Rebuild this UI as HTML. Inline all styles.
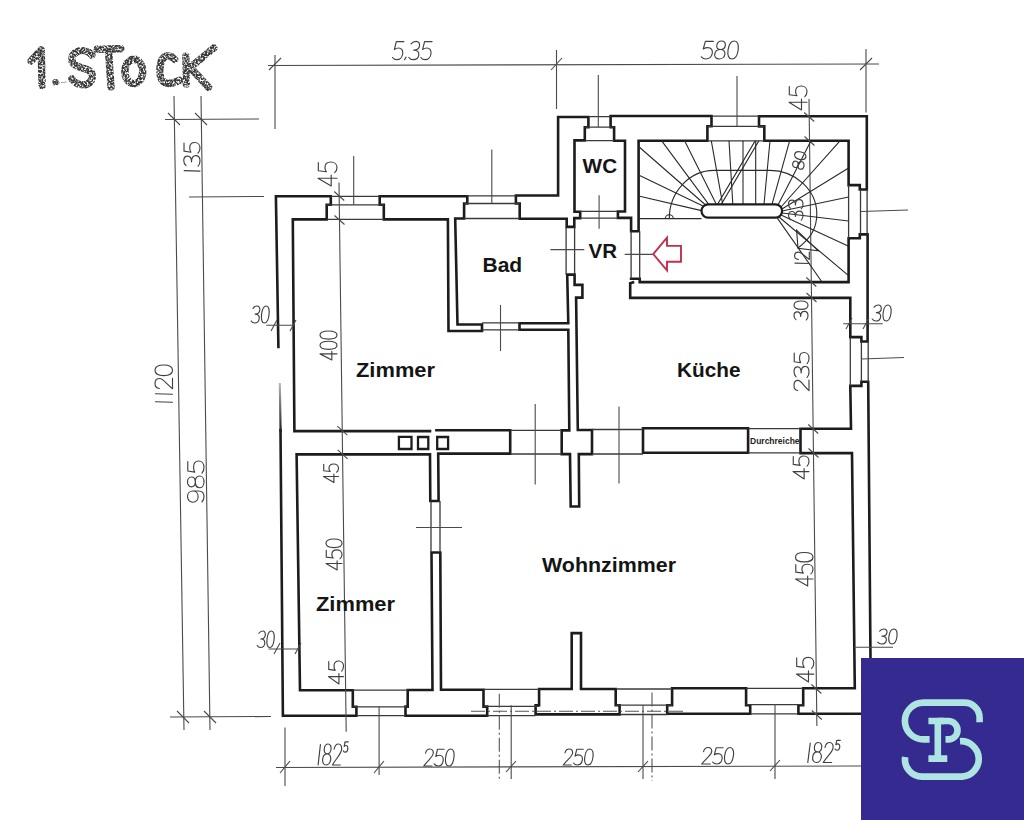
<!DOCTYPE html>
<html><head><meta charset="utf-8">
<style>
html,body{margin:0;padding:0;background:#fff;width:1024px;height:820px;overflow:hidden}
svg{position:absolute;left:0;top:0}
.lbl{font-family:"Liberation Sans",sans-serif;font-weight:bold;fill:#151515}
.dim{font-family:"Liberation Sans",sans-serif;fill:#3a3a3a}
</style></head><body>
<svg width="1024" height="820" viewBox="0 0 1024 820">
<!-- thick walls -->
<g id="walls" fill="none" stroke="#1c1c1c" stroke-width="2.6" stroke-linejoin="miter" stroke-linecap="square">
<path d="M278.4,347 L275.9,196.2 H330.8 V204.8 H326.7 V219.4 H292.8 L294.4,431.1 H430"/>
<path d="M379.7,204.8 V196.2 H467.3 V203.5 H464.1 V218.5 H455.2 L457.5,324.5 H482 V331 H448.5 L447.9,219.4 H383.8 V204.8 Z"/>
<path d="M515.9,203.5 V195.5 H558.1 V117 H588.4 V127.2 H584.8 V140.4 H574.5 V211.7 H580.2 V218.1 H574.3 V226.9 H566.7 V218.7 H519.7 V203.5 Z"/>
<path d="M519.5,323.2 H568.3 L567.2,274.6 H574.6 V284.9 H582.4 V297.6 H576.1 L577.8,430 H592 V454.1 H578.8 L579.2,506.5 H570.7 L570,454.1 H561.7 V430.4 H569.3 L568.3,329.8 H519.5 Z"/>
<path d="M610.6,127.2 V116 H711.5 V126.2 H707.4 V140.8 H638.6 V231.3 H631.1 V217.9 H617.9 V211.5 H625 V140.8 H614.1 V127.2 Z"/>
<path d="M759,126.4 V116.2 H866.8 V189.5 H859.8 V185.1 H848.6 V140.8 H764.3 V126.4 Z"/>
<path d="M631.1,278.7 H639.7 V282.1 H848.6 V238.3 H859.8 V234.4 H867.6 V341.5 H861.4 V337.1 H850.3 V297.9 H630.2 V283.2 L633,282.4"/>
<path d="M870.5,660 L868.2,381.7 H861.4 V385.9 H850.3 L851,428.7 H800.5 V453.1 H852 L854.8,688.2 H803.2 V705.2 H798.4 V713.8 H862"/>
<path d="M643,428.3 H748.1 V452.8 H643 Z"/>
<path d="M436.4,430.2 H510.2 V453.6 H438.2 L438.6,501 H430.3 L430,454.4 H296.6 L300,690.3 H352.8 V706.8 H356.4 V715.8 H282.9 L280.5,430"/>
<path d="M432.5,689.8 L431.5,552.5 H440.3 L441,689.8 H483.5 V706.6 H487.2 V715.7 H405.5 V706.6 H407.7 V690 H432.5"/>
<path d="M571.7,689 V633.1 H581 V689 H615.7 V705.3 H619.6 V714.4 H535.6 V705.3 H539.1 V689 Z"/>
<path d="M672.1,688.2 H746.1 V705.2 H750.2 V713.8 H667.2 V705.2 H672.1 Z"/>
<path stroke-width="2.3" d="M398.9,436.8 H411.5 V449 H398.9 Z M418,437 H428.3 V449 H418 Z M437.2,437 H448.1 V449 H437.2 Z"/>
</g>

<defs><linearGradient id="fadeL" x1="0" y1="0" x2="0" y2="1"><stop offset="0" stop-color="#bbb"/><stop offset="1" stop-color="#1c1c1c"/></linearGradient></defs>
<path d="M279.8,383 L280.6,432" stroke="url(#fadeL)" stroke-width="2.2" fill="none"/>
<!-- window & door thin lines -->
<g id="win" fill="none" stroke="#3a3a3a" stroke-width="1.3">
<path d="M330.8,196.4 H379.7 M326.7,204.8 H383.8 M326.7,219.4 H383.8"/>
<path d="M467.3,195.9 H515.9 M464.1,203.5 H519.7 M464.1,218.5 H519.7"/>
<path d="M588.4,116.6 H610.6 M584.8,127.2 H614.1 M584.8,140.6 H614.1"/>
<path d="M711.5,116.2 H759 M707.4,126.3 H764.3 M707.4,140.8 H764.3"/>
<path d="M860.5,189.5 V234.4 M867.1,189.5 V234.4 M848.6,185.1 V238.3"/>
<path d="M861.4,341.5 V381.7 M868.2,341.5 V381.7 M850.3,337.1 V385.9"/>
<path d="M352.8,690.2 H407.7 M352.8,706.8 H407.7 M356.4,715.7 H405.5"/>
<path d="M483.5,689.4 H539.2 M483.5,706.4 H539.2 M487.2,715.6 H535.5"/>
<path d="M615.7,689 H672.1 M615.7,705.1 H672.1 M619.6,714.5 H668"/>
<path d="M746.1,688.3 H803.2 M746.1,704.6 H803.2 M750.2,713.8 H798.4"/>
<path d="M510.2,430.4 H561.7 M510.2,454 H561.7 M592,429.5 H643 M592,454 H643 M748.1,428.7 H800.5 M748.1,452.8 H800.5"/>
<path d="M482,322.8 H519.5 M482,329.8 H519.5"/>
<path d="M566.1,226.9 V274.6 M574.6,226.9 V274.6"/>
<path d="M631.1,231.3 V278.7 M639.7,231.3 V278.7"/>
<path d="M580.2,211.3 H617.9 M580.2,218.1 H617.9"/>
<path d="M431,501 V552.5 M440,501 V552.5"/>
</g>
<g fill="none" stroke="#555" stroke-width="1.1" stroke-dasharray="14 3 2 3">
<path d="M471,711.3 H683"/>
<path d="M499.3,693.7 V780.2 M652,692.4 V781"/>
</g>
<!-- center marks and dimension lines -->
<g id="dims" fill="none" stroke="#4a4a4a" stroke-width="1.1">
<path d="M353.7,156 V204.8 M491.8,149.5 V203.5 M598.3,75 V127 M737,76 V126 M500.5,305 V351 M599.1,195.3 V228.7"/>
<path d="M550.4,249.6 H584.3 M624.7,254.4 H652.9 M860.7,211.5 L908,210 M861.4,359 L904,357.5"/>
<path d="M535.2,404 V484.5 M619,406.6 V483.4 M416,527.5 H462"/>
<path d="M268,65.5 L879,64 M275,55 V129 M556.5,50 V109 M866,49 V112.5"/>
<path d="M174,96 L184,730 M201,96 L210,730"/>
<path d="M165,119.5 L259,119 M189,197 L264,196.5 M170,717 L271,716.5"/>
<path d="M276,767.5 L861,766"/>
<path d="M285,727.5 V786 M379.1,706.6 V775 M511.2,705.2 V779 M643,705 V779 M775,704 V779"/>
<path d="M339,182.5 L346.2,731.8 M809,99 L816.9,726"/>
<path d="M266.3,325.2 H294.8 M268.5,649 H300 M843.2,323.7 H882.7 M854,647.2 H893"/>
<path d="M269,70 L281,58 M551,70 L562,58 M860,70 L872,58 M168,113 L180,125 M195,113 L207,125 M177,711 L189,723 M204,711 L216,723 M280,773 L290,761 M374,773 L384,761 M506,772 L516,761 M638,772 L648,761 M770,771 L780,760"/>
<path d="M334.2,191.5 L344.2,200.5 M334.5,215.5 L344.5,224.5 M337.3,426.2 L347.3,435.2 M337.6,449.9 L347.6,458.9 M804.2,112.5 L814.2,121.5 M804.5,136.5 L814.5,145.5 M806.3,277.5 L816.3,286.5 M806.5,293.0 L816.5,302.0 M808.2,424.5 L818.2,433.5 M808.5,448.5 L818.5,457.5 M811.4,684.5 L821.4,693.5 M811.8,710.5 L821.8,719.5 M271,331 L277,320 M290,331 L296,320 M274,654 L280,643 M295,654 L301,643 M846,329 L852,318 M863,329 L869,318"/>
</g>
<!-- stairs -->
<g id="stairs" fill="none" stroke="#2a2a2a" stroke-width="1.1">
<path d="M638.6,218.6 H701.5"/>
<path d="M638.6,146.5 L705,204.5 M638.6,175 L703,206 M638.6,196 L701.5,210.6 M661.7,140.8 L708.7,204.3 M684.6,140.8 L716.3,204.3 M711.3,140.8 L722.7,204.3 M729,140.8 L732.8,204.3 M743,140.8 L743,204.3 M755.7,140.8 L755.7,204.3 M770,140.8 L764,204.3"/>
<path d="M789.6,140.8 L772,204.3 M811,140.8 L778,205 M840,140.8 L781,207 M848.6,168 L782,209 M848.6,197 L782,211 M848.6,221 L782,213 M848.6,246.3 L781,215 M848.6,275.7 L779,217 M822,282 L777,217.6"/>
<path d="M669.3,218.7 A45,48 0 0 1 714.4,170.4 L770,170.4 C795,170.4 816.8,190 816.8,214 C816.8,228 811,238 798,248"/>
<path d="M665.3,218.7 A4,4 0 0 1 673.3,218.7"/>
<path d="M717.6,204.3 L755.2,140.8 M721.3,204.3 L758.9,140.8" stroke-width="1.2"/>
<path d="M796.6,230.2 L798,248.2 L818.1,250.7 Z"/>
</g>
<rect x="701.5" y="204.3" width="80.6" height="13.3" rx="6.6" fill="#fff" stroke="#1c1c1c" stroke-width="2.2"/>
<!-- red arrow -->
<path d="M653.2,254.1 L667,237.7 V245.9 H681 V261.8 H667 V270.3 Z" fill="#fff" stroke="#c22f4b" stroke-width="1.9" stroke-linejoin="miter"/>

<!-- labels -->
<g class="lbl" font-size="20.5" lengthAdjust="spacingAndGlyphs">
<text x="582.6" y="173.4" textLength="34.5" lengthAdjust="spacingAndGlyphs">WC</text>
<text x="588.6" y="258.2" textLength="28.5" lengthAdjust="spacingAndGlyphs">VR</text>
<text x="482.5" y="271.8" textLength="39.7" lengthAdjust="spacingAndGlyphs">Bad</text>
<text x="356" y="376.7" textLength="79" lengthAdjust="spacingAndGlyphs">Zimmer</text>
<text x="677" y="376.7" textLength="63.5" lengthAdjust="spacingAndGlyphs">Küche</text>
<text x="542" y="572" textLength="134" lengthAdjust="spacingAndGlyphs">Wohnzimmer</text>
<text x="316" y="611.1" textLength="79" lengthAdjust="spacingAndGlyphs">Zimmer</text>
</g>
<text class="lbl" x="750" y="444.3" font-size="8.5" style="fill:#1e1e1e">Durchreiche</text>
<!--NUMBERS-->
<g id="numbers" fill="none" stroke="#404040" stroke-width="1.15" stroke-linecap="round" stroke-linejoin="round">
<path vector-effect="non-scaling-stroke" transform="matrix(0.9390 0.0000 -0.1315 1.0222 394.67 41.30)" d="M9.8,0.3 H1.8 L0.8,8 C2.2,7 3.5,6.6 5,6.6 C8.3,6.6 10.3,9 10.3,12.2 C10.3,15.6 8,18 5,18 C3,18 1.2,17.2 0,15.8"/>
<path vector-effect="non-scaling-stroke" transform="matrix(0.9390 0.0000 -0.1315 1.0222 406.68 41.30)" d="M1.5,15.5 L0.3,18"/>
<path vector-effect="non-scaling-stroke" transform="matrix(0.9390 0.0000 -0.1315 1.0222 410.91 41.30)" d="M0.5,2.5 C1.8,0.8 3.5,0 5.5,0 C8.3,0 9.8,2 9.8,4.3 C9.8,7 7.5,8.6 4.2,8.6 C8,8.6 10.3,10.6 10.3,13.3 C10.3,16.3 8,18 5,18 C3,18 1.2,17.2 0,15.8"/>
<path vector-effect="non-scaling-stroke" transform="matrix(0.9390 0.0000 -0.1315 1.0222 422.93 41.30)" d="M9.8,0.3 H1.8 L0.8,8 C2.2,7 3.5,6.6 5,6.6 C8.3,6.6 10.3,9 10.3,12.2 C10.3,15.6 8,18 5,18 C3,18 1.2,17.2 0,15.8"/>
<path vector-effect="non-scaling-stroke" transform="matrix(1.0180 0.0000 -0.1425 1.0000 703.57 41.00)" d="M9.8,0.3 H1.8 L0.8,8 C2.2,7 3.5,6.6 5,6.6 C8.3,6.6 10.3,9 10.3,12.2 C10.3,15.6 8,18 5,18 C3,18 1.2,17.2 0,15.8"/>
<path vector-effect="non-scaling-stroke" transform="matrix(1.0180 0.0000 -0.1425 1.0000 716.60 41.00)" d="M5,8.5 C2.2,8.5 0.8,6.8 0.8,4.3 C0.8,1.8 2.7,0 5,0 C7.3,0 9.2,1.8 9.2,4.3 C9.2,6.8 7.8,8.5 5,8.5 C1.9,8.5 0,10.6 0,13.3 C0,16 2.2,18 5,18 C7.8,18 10,16 10,13.3 C10,10.6 8.1,8.5 5,8.5 Z"/>
<path vector-effect="non-scaling-stroke" transform="matrix(1.0180 0.0000 -0.1425 1.0000 729.32 41.00)" d="M5,0 C8,0 10,3.5 10,9 C10,14.5 8,18 5,18 C2,18 0,14.5 0,9 C0,3.5 2,0 5,0 Z"/>
<path vector-effect="non-scaling-stroke" transform="matrix(0.0000 -1.0212 0.9028 0.0000 183.75 173.75)" d="M3,0.5 L2.6,18"/>
<path vector-effect="non-scaling-stroke" transform="matrix(0.0000 -1.0212 0.9028 0.0000 183.75 166.09)" d="M0.5,2.5 C1.8,0.8 3.5,0 5.5,0 C8.3,0 9.8,2 9.8,4.3 C9.8,7 7.5,8.6 4.2,8.6 C8,8.6 10.3,10.6 10.3,13.3 C10.3,16.3 8,18 5,18 C3,18 1.2,17.2 0,15.8"/>
<path vector-effect="non-scaling-stroke" transform="matrix(0.0000 -1.0212 0.9028 0.0000 183.75 153.02)" d="M9.8,0.3 H1.8 L0.8,8 C2.2,7 3.5,6.6 5,6.6 C8.3,6.6 10.3,9 10.3,12.2 C10.3,15.6 8,18 5,18 C3,18 1.2,17.2 0,15.8"/>
<path vector-effect="non-scaling-stroke" transform="matrix(0.0000 -1.0300 1.0556 0.0000 318.00 186.00)" d="M7.5,18 V0 L0,12.5 H10.5"/>
<path vector-effect="non-scaling-stroke" transform="matrix(0.0000 -1.0300 1.0556 0.0000 318.00 172.61)" d="M9.8,0.3 H1.8 L0.8,8 C2.2,7 3.5,6.6 5,6.6 C8.3,6.6 10.3,9 10.3,12.2 C10.3,15.6 8,18 5,18 C3,18 1.2,17.2 0,15.8"/>
<path vector-effect="non-scaling-stroke" transform="matrix(0.0000 -1.0300 1.0000 0.0000 789.00 110.00)" d="M7.5,18 V0 L0,12.5 H10.5"/>
<path vector-effect="non-scaling-stroke" transform="matrix(0.0000 -1.0300 1.0000 0.0000 789.00 96.61)" d="M9.8,0.3 H1.8 L0.8,8 C2.2,7 3.5,6.6 5,6.6 C8.3,6.6 10.3,9 10.3,12.2 C10.3,15.6 8,18 5,18 C3,18 1.2,17.2 0,15.8"/>
<path vector-effect="non-scaling-stroke" transform="matrix(0.0000 -0.8874 0.8056 0.0000 788.50 220.20)" d="M0.5,2.5 C1.8,0.8 3.5,0 5.5,0 C8.3,0 9.8,2 9.8,4.3 C9.8,7 7.5,8.6 4.2,8.6 C8,8.6 10.3,10.6 10.3,13.3 C10.3,16.3 8,18 5,18 C3,18 1.2,17.2 0,15.8"/>
<path vector-effect="non-scaling-stroke" transform="matrix(0.0000 -0.8874 0.8056 0.0000 788.50 208.84)" d="M0.5,2.5 C1.8,0.8 3.5,0 5.5,0 C8.3,0 9.8,2 9.8,4.3 C9.8,7 7.5,8.6 4.2,8.6 C8,8.6 10.3,10.6 10.3,13.3 C10.3,16.3 8,18 5,18 C3,18 1.2,17.2 0,15.8"/>
<path vector-effect="non-scaling-stroke" transform="matrix(0.0000 -0.7714 0.8167 0.0000 794.60 265.50)" d="M3,0.5 L2.6,18"/>
<path vector-effect="non-scaling-stroke" transform="matrix(0.0000 -0.7714 0.8167 0.0000 794.60 259.71)" d="M0.5,4.5 C0.8,1.5 2.8,0 5.2,0 C8,0 9.8,2 9.8,4.8 C9.8,8.5 4,12.5 0.3,18 H10"/>
<path vector-effect="non-scaling-stroke" transform="matrix(0.0000 -1.0667 0.9722 0.0000 155.00 405.00)" d="M3,0.5 L2.6,18"/>
<path vector-effect="non-scaling-stroke" transform="matrix(0.0000 -1.0667 0.9722 0.0000 155.00 397.00)" d="M3,0.5 L2.6,18"/>
<path vector-effect="non-scaling-stroke" transform="matrix(0.0000 -1.0667 0.9722 0.0000 155.00 389.00)" d="M0.5,4.5 C0.8,1.5 2.8,0 5.2,0 C8,0 9.8,2 9.8,4.8 C9.8,8.5 4,12.5 0.3,18 H10"/>
<path vector-effect="non-scaling-stroke" transform="matrix(0.0000 -1.0667 0.9722 0.0000 155.00 375.67)" d="M5,0 C8,0 10,3.5 10,9 C10,14.5 8,18 5,18 C2,18 0,14.5 0,9 C0,3.5 2,0 5,0 Z"/>
<path vector-effect="non-scaling-stroke" transform="matrix(0.0000 -0.8169 0.9444 0.0000 320.00 360.00)" d="M7.5,18 V0 L0,12.5 H10.5"/>
<path vector-effect="non-scaling-stroke" transform="matrix(0.0000 -0.8169 0.9444 0.0000 320.00 349.38)" d="M5,0 C8,0 10,3.5 10,9 C10,14.5 8,18 5,18 C2,18 0,14.5 0,9 C0,3.5 2,0 5,0 Z"/>
<path vector-effect="non-scaling-stroke" transform="matrix(0.0000 -0.8169 0.9444 0.0000 320.00 339.17)" d="M5,0 C8,0 10,3.5 10,9 C10,14.5 8,18 5,18 C2,18 0,14.5 0,9 C0,3.5 2,0 5,0 Z"/>
<path vector-effect="non-scaling-stroke" transform="matrix(0.7504 0.0000 -0.1051 0.9444 252.89 306.00)" d="M0.5,2.5 C1.8,0.8 3.5,0 5.5,0 C8.3,0 9.8,2 9.8,4.3 C9.8,7 7.5,8.6 4.2,8.6 C8,8.6 10.3,10.6 10.3,13.3 C10.3,16.3 8,18 5,18 C3,18 1.2,17.2 0,15.8"/>
<path vector-effect="non-scaling-stroke" transform="matrix(0.7504 0.0000 -0.1051 0.9444 262.50 306.00)" d="M5,0 C8,0 10,3.5 10,9 C10,14.5 8,18 5,18 C2,18 0,14.5 0,9 C0,3.5 2,0 5,0 Z"/>
<path vector-effect="non-scaling-stroke" transform="matrix(0.0000 -0.8333 0.7778 0.0000 794.00 320.00)" d="M0.5,2.5 C1.8,0.8 3.5,0 5.5,0 C8.3,0 9.8,2 9.8,4.3 C9.8,7 7.5,8.6 4.2,8.6 C8,8.6 10.3,10.6 10.3,13.3 C10.3,16.3 8,18 5,18 C3,18 1.2,17.2 0,15.8"/>
<path vector-effect="non-scaling-stroke" transform="matrix(0.0000 -0.8333 0.7778 0.0000 794.00 309.33)" d="M5,0 C8,0 10,3.5 10,9 C10,14.5 8,18 5,18 C2,18 0,14.5 0,9 C0,3.5 2,0 5,0 Z"/>
<path vector-effect="non-scaling-stroke" transform="matrix(0.0000 -1.0815 0.8333 0.0000 794.00 391.00)" d="M0.5,4.5 C0.8,1.5 2.8,0 5.2,0 C8,0 9.8,2 9.8,4.8 C9.8,8.5 4,12.5 0.3,18 H10"/>
<path vector-effect="non-scaling-stroke" transform="matrix(0.0000 -1.0815 0.8333 0.0000 794.00 377.48)" d="M0.5,2.5 C1.8,0.8 3.5,0 5.5,0 C8.3,0 9.8,2 9.8,4.3 C9.8,7 7.5,8.6 4.2,8.6 C8,8.6 10.3,10.6 10.3,13.3 C10.3,16.3 8,18 5,18 C3,18 1.2,17.2 0,15.8"/>
<path vector-effect="non-scaling-stroke" transform="matrix(0.0000 -1.0815 0.8333 0.0000 794.00 363.64)" d="M9.8,0.3 H1.8 L0.8,8 C2.2,7 3.5,6.6 5,6.6 C8.3,6.6 10.3,9 10.3,12.2 C10.3,15.6 8,18 5,18 C3,18 1.2,17.2 0,15.8"/>
<path vector-effect="non-scaling-stroke" transform="matrix(0.7899 0.0000 -0.1106 0.8889 873.99 305.00)" d="M0.5,2.5 C1.8,0.8 3.5,0 5.5,0 C8.3,0 9.8,2 9.8,4.3 C9.8,7 7.5,8.6 4.2,8.6 C8,8.6 10.3,10.6 10.3,13.3 C10.3,16.3 8,18 5,18 C3,18 1.2,17.2 0,15.8"/>
<path vector-effect="non-scaling-stroke" transform="matrix(0.7899 0.0000 -0.1106 0.8889 884.10 305.00)" d="M5,0 C8,0 10,3.5 10,9 C10,14.5 8,18 5,18 C2,18 0,14.5 0,9 C0,3.5 2,0 5,0 Z"/>
<path vector-effect="non-scaling-stroke" transform="matrix(0.0000 -1.1756 0.9167 0.0000 187.50 502.50)" d="M9.8,5.8 C9.8,9.3 7.6,11.6 5,11.6 C2.3,11.6 0.2,9.3 0.2,5.8 C0.2,2.4 2.3,0 5,0 C7.7,0 9.8,2.4 9.8,5.8 V12 C9.8,15.8 7.8,18 5,18 C3.2,18 1.6,17.2 0.6,15.8"/>
<path vector-effect="non-scaling-stroke" transform="matrix(0.0000 -1.1756 0.9167 0.0000 187.50 487.80)" d="M5,8.5 C2.2,8.5 0.8,6.8 0.8,4.3 C0.8,1.8 2.7,0 5,0 C7.3,0 9.2,1.8 9.2,4.3 C9.2,6.8 7.8,8.5 5,8.5 C1.9,8.5 0,10.6 0,13.3 C0,16 2.2,18 5,18 C7.8,18 10,16 10,13.3 C10,10.6 8.1,8.5 5,8.5 Z"/>
<path vector-effect="non-scaling-stroke" transform="matrix(0.0000 -1.1756 0.9167 0.0000 187.50 473.11)" d="M9.8,0.3 H1.8 L0.8,8 C2.2,7 3.5,6.6 5,6.6 C8.3,6.6 10.3,9 10.3,12.2 C10.3,15.6 8,18 5,18 C3,18 1.2,17.2 0,15.8"/>
<path vector-effect="non-scaling-stroke" transform="matrix(0.0000 -0.7940 0.8333 0.0000 323.50 482.50)" d="M7.5,18 V0 L0,12.5 H10.5"/>
<path vector-effect="non-scaling-stroke" transform="matrix(0.0000 -0.7940 0.8333 0.0000 323.50 472.18)" d="M9.8,0.3 H1.8 L0.8,8 C2.2,7 3.5,6.6 5,6.6 C8.3,6.6 10.3,9 10.3,12.2 C10.3,15.6 8,18 5,18 C3,18 1.2,17.2 0,15.8"/>
<path vector-effect="non-scaling-stroke" transform="matrix(0.0000 -0.8659 0.8889 0.0000 326.00 570.00)" d="M7.5,18 V0 L0,12.5 H10.5"/>
<path vector-effect="non-scaling-stroke" transform="matrix(0.0000 -0.8659 0.8889 0.0000 326.00 558.74)" d="M9.8,0.3 H1.8 L0.8,8 C2.2,7 3.5,6.6 5,6.6 C8.3,6.6 10.3,9 10.3,12.2 C10.3,15.6 8,18 5,18 C3,18 1.2,17.2 0,15.8"/>
<path vector-effect="non-scaling-stroke" transform="matrix(0.0000 -0.8659 0.8889 0.0000 326.00 547.66)" d="M5,0 C8,0 10,3.5 10,9 C10,14.5 8,18 5,18 C2,18 0,14.5 0,9 C0,3.5 2,0 5,0 Z"/>
<path vector-effect="non-scaling-stroke" transform="matrix(0.0000 -0.9871 0.8889 0.0000 793.00 479.00)" d="M7.5,18 V0 L0,12.5 H10.5"/>
<path vector-effect="non-scaling-stroke" transform="matrix(0.0000 -0.9871 0.8889 0.0000 793.00 466.17)" d="M9.8,0.3 H1.8 L0.8,8 C2.2,7 3.5,6.6 5,6.6 C8.3,6.6 10.3,9 10.3,12.2 C10.3,15.6 8,18 5,18 C3,18 1.2,17.2 0,15.8"/>
<path vector-effect="non-scaling-stroke" transform="matrix(0.0000 -0.9358 0.9722 0.0000 795.50 586.00)" d="M7.5,18 V0 L0,12.5 H10.5"/>
<path vector-effect="non-scaling-stroke" transform="matrix(0.0000 -0.9358 0.9722 0.0000 795.50 573.84)" d="M9.8,0.3 H1.8 L0.8,8 C2.2,7 3.5,6.6 5,6.6 C8.3,6.6 10.3,9 10.3,12.2 C10.3,15.6 8,18 5,18 C3,18 1.2,17.2 0,15.8"/>
<path vector-effect="non-scaling-stroke" transform="matrix(0.0000 -0.9358 0.9722 0.0000 795.50 561.86)" d="M5,0 C8,0 10,3.5 10,9 C10,14.5 8,18 5,18 C2,18 0,14.5 0,9 C0,3.5 2,0 5,0 Z"/>
<path vector-effect="non-scaling-stroke" transform="matrix(0.7109 0.0000 -0.0995 0.9167 258.79 631.00)" d="M0.5,2.5 C1.8,0.8 3.5,0 5.5,0 C8.3,0 9.8,2 9.8,4.3 C9.8,7 7.5,8.6 4.2,8.6 C8,8.6 10.3,10.6 10.3,13.3 C10.3,16.3 8,18 5,18 C3,18 1.2,17.2 0,15.8"/>
<path vector-effect="non-scaling-stroke" transform="matrix(0.7109 0.0000 -0.0995 0.9167 267.89 631.00)" d="M5,0 C8,0 10,3.5 10,9 C10,14.5 8,18 5,18 C2,18 0,14.5 0,9 C0,3.5 2,0 5,0 Z"/>
<path vector-effect="non-scaling-stroke" transform="matrix(0.0000 -0.9871 0.8333 0.0000 328.50 684.00)" d="M7.5,18 V0 L0,12.5 H10.5"/>
<path vector-effect="non-scaling-stroke" transform="matrix(0.0000 -0.9871 0.8333 0.0000 328.50 671.17)" d="M9.8,0.3 H1.8 L0.8,8 C2.2,7 3.5,6.6 5,6.6 C8.3,6.6 10.3,9 10.3,12.2 C10.3,15.6 8,18 5,18 C3,18 1.2,17.2 0,15.8"/>
<path vector-effect="non-scaling-stroke" transform="matrix(0.0000 -1.0558 0.9667 0.0000 796.40 682.00)" d="M7.5,18 V0 L0,12.5 H10.5"/>
<path vector-effect="non-scaling-stroke" transform="matrix(0.0000 -1.0558 0.9667 0.0000 796.40 668.27)" d="M9.8,0.3 H1.8 L0.8,8 C2.2,7 3.5,6.6 5,6.6 C8.3,6.6 10.3,9 10.3,12.2 C10.3,15.6 8,18 5,18 C3,18 1.2,17.2 0,15.8"/>
<path vector-effect="non-scaling-stroke" transform="matrix(0.8096 0.0000 -0.1133 0.8333 879.54 629.00)" d="M0.5,2.5 C1.8,0.8 3.5,0 5.5,0 C8.3,0 9.8,2 9.8,4.3 C9.8,7 7.5,8.6 4.2,8.6 C8,8.6 10.3,10.6 10.3,13.3 C10.3,16.3 8,18 5,18 C3,18 1.2,17.2 0,15.8"/>
<path vector-effect="non-scaling-stroke" transform="matrix(0.8096 0.0000 -0.1133 0.8333 889.90 629.00)" d="M5,0 C8,0 10,3.5 10,9 C10,14.5 8,18 5,18 C2,18 0,14.5 0,9 C0,3.5 2,0 5,0 Z"/>
<path vector-effect="non-scaling-stroke" transform="matrix(0.8091 0.0000 -0.1133 1.1667 318.04 744.00)" d="M3,0.5 L2.6,18"/>
<path vector-effect="non-scaling-stroke" transform="matrix(0.8091 0.0000 -0.1133 1.1667 324.11 744.00)" d="M5,8.5 C2.2,8.5 0.8,6.8 0.8,4.3 C0.8,1.8 2.7,0 5,0 C7.3,0 9.2,1.8 9.2,4.3 C9.2,6.8 7.8,8.5 5,8.5 C1.9,8.5 0,10.6 0,13.3 C0,16 2.2,18 5,18 C7.8,18 10,16 10,13.3 C10,10.6 8.1,8.5 5,8.5 Z"/>
<path vector-effect="non-scaling-stroke" transform="matrix(0.8091 0.0000 -0.1133 1.1667 334.22 744.00)" d="M0.5,4.5 C0.8,1.5 2.8,0 5.2,0 C8,0 9.8,2 9.8,4.8 C9.8,8.5 4,12.5 0.3,18 H10"/>
<path vector-effect="non-scaling-stroke" transform="matrix(0.4045 0.0000 -0.0566 0.5833 344.33 741.67)" d="M9.8,0.3 H1.8 L0.8,8 C2.2,7 3.5,6.6 5,6.6 C8.3,6.6 10.3,9 10.3,12.2 C10.3,15.6 8,18 5,18 C3,18 1.2,17.2 0,15.8"/>
<path vector-effect="non-scaling-stroke" transform="matrix(0.8329 0.0000 -0.1166 0.9444 425.60 749.00)" d="M0.5,4.5 C0.8,1.5 2.8,0 5.2,0 C8,0 9.8,2 9.8,4.8 C9.8,8.5 4,12.5 0.3,18 H10"/>
<path vector-effect="non-scaling-stroke" transform="matrix(0.8329 0.0000 -0.1166 0.9444 436.01 749.00)" d="M9.8,0.3 H1.8 L0.8,8 C2.2,7 3.5,6.6 5,6.6 C8.3,6.6 10.3,9 10.3,12.2 C10.3,15.6 8,18 5,18 C3,18 1.2,17.2 0,15.8"/>
<path vector-effect="non-scaling-stroke" transform="matrix(0.8329 0.0000 -0.1166 0.9444 446.67 749.00)" d="M5,0 C8,0 10,3.5 10,9 C10,14.5 8,18 5,18 C2,18 0,14.5 0,9 C0,3.5 2,0 5,0 Z"/>
<path vector-effect="non-scaling-stroke" transform="matrix(0.8197 0.0000 -0.1148 0.8889 565.07 749.00)" d="M0.5,4.5 C0.8,1.5 2.8,0 5.2,0 C8,0 9.8,2 9.8,4.8 C9.8,8.5 4,12.5 0.3,18 H10"/>
<path vector-effect="non-scaling-stroke" transform="matrix(0.8197 0.0000 -0.1148 0.8889 575.31 749.00)" d="M9.8,0.3 H1.8 L0.8,8 C2.2,7 3.5,6.6 5,6.6 C8.3,6.6 10.3,9 10.3,12.2 C10.3,15.6 8,18 5,18 C3,18 1.2,17.2 0,15.8"/>
<path vector-effect="non-scaling-stroke" transform="matrix(0.8197 0.0000 -0.1148 0.8889 585.80 749.00)" d="M5,0 C8,0 10,3.5 10,9 C10,14.5 8,18 5,18 C2,18 0,14.5 0,9 C0,3.5 2,0 5,0 Z"/>
<path vector-effect="non-scaling-stroke" transform="matrix(0.8726 0.0000 -0.1222 0.9167 703.70 747.50)" d="M0.5,4.5 C0.8,1.5 2.8,0 5.2,0 C8,0 9.8,2 9.8,4.8 C9.8,8.5 4,12.5 0.3,18 H10"/>
<path vector-effect="non-scaling-stroke" transform="matrix(0.8726 0.0000 -0.1222 0.9167 714.61 747.50)" d="M9.8,0.3 H1.8 L0.8,8 C2.2,7 3.5,6.6 5,6.6 C8.3,6.6 10.3,9 10.3,12.2 C10.3,15.6 8,18 5,18 C3,18 1.2,17.2 0,15.8"/>
<path vector-effect="non-scaling-stroke" transform="matrix(0.8726 0.0000 -0.1222 0.9167 725.77 747.50)" d="M5,0 C8,0 10,3.5 10,9 C10,14.5 8,18 5,18 C2,18 0,14.5 0,9 C0,3.5 2,0 5,0 Z"/>
<path vector-effect="non-scaling-stroke" transform="matrix(0.8713 0.0000 -0.1220 1.1111 807.70 742.50)" d="M3,0.5 L2.6,18"/>
<path vector-effect="non-scaling-stroke" transform="matrix(0.8713 0.0000 -0.1220 1.1111 814.23 742.50)" d="M5,8.5 C2.2,8.5 0.8,6.8 0.8,4.3 C0.8,1.8 2.7,0 5,0 C7.3,0 9.2,1.8 9.2,4.3 C9.2,6.8 7.8,8.5 5,8.5 C1.9,8.5 0,10.6 0,13.3 C0,16 2.2,18 5,18 C7.8,18 10,16 10,13.3 C10,10.6 8.1,8.5 5,8.5 Z"/>
<path vector-effect="non-scaling-stroke" transform="matrix(0.8713 0.0000 -0.1220 1.1111 825.12 742.50)" d="M0.5,4.5 C0.8,1.5 2.8,0 5.2,0 C8,0 9.8,2 9.8,4.8 C9.8,8.5 4,12.5 0.3,18 H10"/>
<path vector-effect="non-scaling-stroke" transform="matrix(0.4356 0.0000 -0.0610 0.5556 836.01 740.28)" d="M9.8,0.3 H1.8 L0.8,8 C2.2,7 3.5,6.6 5,6.6 C8.3,6.6 10.3,9 10.3,12.2 C10.3,15.6 8,18 5,18 C3,18 1.2,17.2 0,15.8"/>
<path vector-effect="non-scaling-stroke" transform="matrix(0.1571 -0.7390 0.6249 0.1328 791.91 167.42)" d="M5,8.5 C2.2,8.5 0.8,6.8 0.8,4.3 C0.8,1.8 2.7,0 5,0 C7.3,0 9.2,1.8 9.2,4.3 C9.2,6.8 7.8,8.5 5,8.5 C1.9,8.5 0,10.6 0,13.3 C0,16 2.2,18 5,18 C7.8,18 10,16 10,13.3 C10,10.6 8.1,8.5 5,8.5 Z"/>
<path vector-effect="non-scaling-stroke" transform="matrix(0.1571 -0.7390 0.6249 0.1328 793.87 158.18)" d="M5,0 C8,0 10,3.5 10,9 C10,14.5 8,18 5,18 C2,18 0,14.5 0,9 C0,3.5 2,0 5,0 Z"/>
</g>
<!--/NUMBERS-->
<!-- blue logo box -->
<rect x="861" y="658" width="163" height="162" fill="#342a90"/>
<g id="logo" fill="none" stroke="#aee5e1" stroke-width="6.6" stroke-linecap="butt">
<path d="M929.6,739.4 H923.5 A18.3,18.1 0 0 1 923.5,702.6 H964.4 A15.2,15.2 0 0 1 979.6,717.8 V722.3"/>
<path d="M960,741.2 A17.7,17.7 0 0 1 962,776.6 H922 A17,17 0 0 1 905.2,757"/>
<path d="M937.8,718 V761 M928.4,721 H944 M928.4,758.6 H947.3"/>
<path d="M937.8,721 H948.5 A9,9.2 0 0 1 948.5,739.4 H945.5"/>
</g>
<!-- 1.STOCK -->
<filter id="pencil" x="0" y="0" width="1024" height="820" filterUnits="userSpaceOnUse">
<feTurbulence type="fractalNoise" baseFrequency="0.55" numOctaves="2" seed="7" result="noise"/>
<feColorMatrix in="noise" type="matrix" values="0 0 0 0 0  0 0 0 0 0  0 0 0 0 0  3.4 0 0 0 -0.95" result="mask"/>
<feComposite in="SourceGraphic" in2="mask" operator="in"/>
</filter>
<g id="stock" fill="none" stroke="#383838" stroke-width="7.4" stroke-linecap="round" stroke-linejoin="round" filter="url(#pencil)">
<path d="M31,61 L41.2,50 L42.1,85.4"/>
<circle cx="55.5" cy="82.3" r="2.6" fill="#4a4a4a" stroke-width="1.5"/><path d="M58,83 L66,82" stroke-width="1.2" stroke="#999"/>
<path d="M91.9,55.1 C89,51.5 85,50.5 81.6,50.7 C76,51 71.9,54 71.9,59.5 C71.9,65 78,67 83.6,68.3 C89,69.5 92.4,72 92.4,76.1 C92.4,81.5 88,84.9 83.6,84.9 C78,84.9 74,82 71.9,79"/>
<path d="M97.3,49.3 L120.7,48.8 M108.5,50 L111,86.9"/>
<ellipse cx="133.8" cy="71.5" rx="8.9" ry="12.3"/>
<path d="M174.6,59.3 C172,56 169,55.8 167,56 C161,57 159.9,64 159.9,71 C159.9,79 163,83.5 168.5,83.5 C173,83.5 176.5,82 179.5,80.3"/>
<path d="M185.9,56.1 L186.4,84 M213.8,48 L190.2,67.4 L208.5,87.3"/>
</g>
</svg>
</body></html>
